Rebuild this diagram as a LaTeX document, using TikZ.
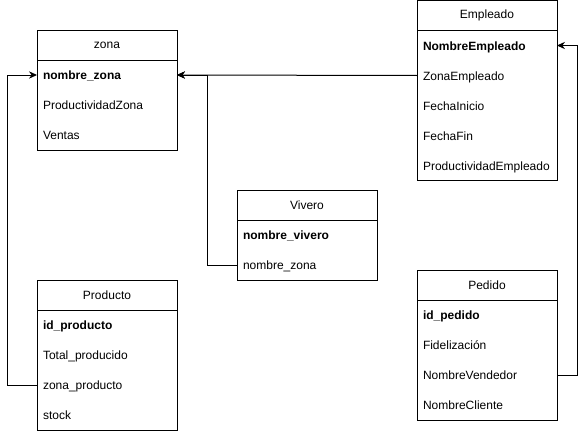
\documentclass[tikz,border=0pt]{standalone}
\usepackage{fontspec}
\setmainfont{Liberation Sans}
\usetikzlibrary{arrows.meta,positioning}

\tikzset{
  cabecera/.style={draw, line width=0.75pt, minimum width=105pt, minimum height=22.5pt,
                   inner sep=0pt, outer sep=0pt, font=\fontsize{9}{11}\selectfont},
  campo/.style={minimum height=22.5pt, text width=96pt, inner xsep=4.5pt, inner ysep=0pt,
                outer sep=0pt, text height=7.5pt, text depth=0.5pt,
                align=left, font=\fontsize{9}{11}\selectfont},
  clave/.style={campo, font=\fontsize{9}{11}\selectfont\bfseries},
  flecha/.style={line width=0.75pt, -{Stealth[length=6pt,width=5.5pt]}}
}

\begin{document}
\begin{tikzpicture}[x=0.75pt,y=0.75pt,yscale=-1,xscale=1]
\useasboundingbox (0,0) rectangle (586,432);

% zona
\node [cabecera, anchor=north west] (zona) at (37,30) {zona};
\node [clave, below=0pt of zona] (zona-1) {nombre\_zona};
\node [campo, below=0pt of zona-1] (zona-2) {ProductividadZona};
\node [campo, below=0pt of zona-2] (zona-3) {Ventas};
\draw [line width=0.75pt] (zona-1.north west) rectangle (zona-3.south east);

% Empleado
\node [cabecera, anchor=north west] (empleado) at (417,0.5) {Empleado};
\node [clave, below=0pt of empleado] (empleado-1) {NombreEmpleado};
\node [campo, below=0pt of empleado-1] (empleado-2) {ZonaEmpleado};
\node [campo, below=0pt of empleado-2] (empleado-3) {FechaInicio};
\node [campo, below=0pt of empleado-3] (empleado-4) {FechaFin};
\node [campo, below=0pt of empleado-4] (empleado-5) {ProductividadEmpleado};
\draw [line width=0.75pt] (empleado-1.north west) rectangle (empleado-5.south east);

% Vivero
\node [cabecera, anchor=north west] (vivero) at (237,190) {Vivero};
\node [clave, below=0pt of vivero] (vivero-1) {nombre\_vivero};
\node [campo, below=0pt of vivero-1] (vivero-2) {nombre\_zona};
\draw [line width=0.75pt] (vivero-1.north west) rectangle (vivero-2.south east);

% Producto
\node [cabecera, anchor=north west] (producto) at (37,280) {Producto};
\node [clave, below=0pt of producto] (producto-1) {id\_producto};
\node [campo, below=0pt of producto-1] (producto-2) {Total\_producido};
\node [campo, below=0pt of producto-2] (producto-3) {zona\_producto};
\node [campo, below=0pt of producto-3] (producto-4) {stock};
\draw [line width=0.75pt] (producto-1.north west) rectangle (producto-4.south east);

% Pedido
\node [cabecera, anchor=north west] (pedido) at (417,270) {Pedido};
\node [clave, below=0pt of pedido] (pedido-1) {id\_pedido};
\node [campo, below=0pt of pedido-1] (pedido-2) {Fidelización};
\node [campo, below=0pt of pedido-2] (pedido-3) {NombreVendedor};
\node [campo, below=0pt of pedido-3] (pedido-4) {NombreCliente};
\draw [line width=0.75pt] (pedido-1.north west) rectangle (pedido-4.south east);

% relaciones
\draw [flecha] (producto-3.west) -- ++(-30,0) |- (zona-1.west);
\draw [flecha] (empleado-2.west) -- (zona-1.east);
\draw [flecha] (vivero-2.west) -- ++(-30,0) |- (zona-1.east);
\draw [flecha] (pedido-3.east) -- ++(20,0) |- (empleado-1.east);

\end{tikzpicture}
\end{document}
